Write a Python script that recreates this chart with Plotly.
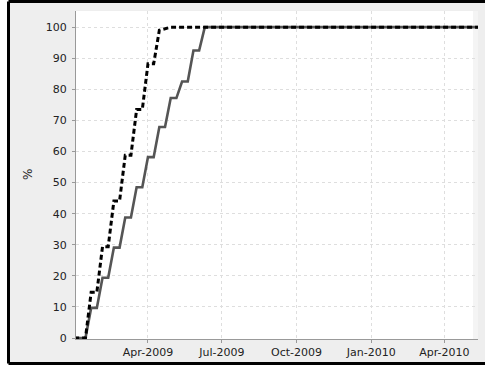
import plotly.graph_objects as go

# ---- data ----
solid_dates = ["2008-12-31", "2009-01-07", "2009-01-14", "2009-01-21", "2009-01-28",
               "2009-02-04", "2009-02-11", "2009-02-18", "2009-02-25", "2009-03-04",
               "2009-03-11", "2009-03-18", "2009-03-25", "2009-04-01", "2009-04-08",
               "2009-04-15", "2009-04-22", "2009-04-29", "2009-05-06", "2009-05-13",
               "2009-05-20", "2009-05-27", "2009-06-03", "2009-06-10", "2010-05-20"]
solid_values = [0, 0, 0, 9.7, 9.7, 19.4, 19.4, 29.1, 29.1, 38.8, 38.8, 48.5, 48.5,
                58.2, 58.2, 67.9, 67.9, 77.2, 77.2, 82.5, 82.5, 92.5, 92.5, 100, 100]

dashed_dates = ["2008-12-31", "2009-01-07", "2009-01-14", "2009-01-21", "2009-01-28",
                "2009-02-04", "2009-02-11", "2009-02-18", "2009-02-25", "2009-03-04",
                "2009-03-11", "2009-03-18", "2009-03-25", "2009-04-01", "2009-04-08",
                "2009-04-15", "2009-04-22", "2009-04-29", "2010-05-20"]
dashed_values = [0, 0, 0, 14.7, 14.7, 29.4, 29.4, 44.1, 44.1, 58.8, 58.8, 73.5, 73.5,
                 88.2, 88.2, 99.0, 99.6, 100, 100]

x_tick_vals = ["2009-04-01", "2009-07-01", "2009-10-01", "2010-01-01", "2010-04-01"]
x_tick_text = ["Apr-2009", "Jul-2009", "Oct-2009", "Jan-2010", "Apr-2010"]
y_tick_vals = [0, 10, 20, 30, 40, 50, 60, 70, 80, 90, 100]
y_title = "%"

FONT = "DejaVu Sans"
TXT = "#222222"
W, H = 485, 368
L, R, T, B = 76, 7, 11, 29
pw, ph = W - L - R, H - T - B

def px_x(p):
    return (p - L) / pw

def px_y(p):
    return (H - B - p) / ph

fig = go.Figure()
fig.add_trace(go.Scatter(x=solid_dates, y=solid_values, mode="lines",
                         line=dict(color="#555555", width=2.6), showlegend=False))
fig.add_trace(go.Scatter(x=dashed_dates, y=dashed_values, mode="lines",
                         line=dict(color="#000000", width=3, dash="5px,3px"),
                         showlegend=False))

bx0, bx1, by0, by1 = px_x(8.5), px_x(W), px_y(363.5), px_y(1.5)
black = dict(color="#000000", width=3)
shapes = [
    # outer grey panel
    dict(type="rect", xref="paper", yref="paper", layer="below",
         x0=bx0, x1=bx1, y0=by0, y1=by1,
         fillcolor="#eeeeee", line=dict(width=0)),
    # plot area
    dict(type="rect", xref="paper", yref="paper", layer="below",
         x0=0, x1=1, y0=0, y1=1, fillcolor="#ffffff", line=dict(width=0)),
    # faint strip at the right edge of the plot area
    dict(type="rect", xref="paper", yref="paper", layer="below",
         x0=px_x(473), x1=1, y0=0, y1=1, fillcolor="#f4f4f4", line=dict(width=0)),
    # black border: top, left, bottom (right side cut off)
    dict(type="line", xref="paper", yref="paper", layer="below",
         x0=bx0, x1=bx1, y0=by1, y1=by1, line=black),
    dict(type="line", xref="paper", yref="paper", layer="below",
         x0=bx0, x1=bx0, y0=by0, y1=by1, line=black),
    dict(type="line", xref="paper", yref="paper", layer="below",
         x0=bx0, x1=bx1, y0=by0, y1=by0, line=black),
]

fig.update_layout(
    width=W, height=H,
    margin=dict(l=L, r=R, t=T, b=B, pad=0),
    paper_bgcolor="#ffffff",
    plot_bgcolor="#ffffff",
    font=dict(family=FONT, size=11, color=TXT),
    shapes=shapes,
    showlegend=False,
    annotations=[dict(text=y_title, xref="paper", yref="paper",
                      x=px_x(28), y=0.5, xanchor="center", yanchor="middle",
                      showarrow=False, textangle=-90,
                      font=dict(family=FONT, size=12, color=TXT))],
)
fig.update_xaxes(
    type="date",
    range=["2009-01-02 08:00", "2010-05-12 12:00"],
    tickvals=x_tick_vals, ticktext=x_tick_text,
    showgrid=True, gridcolor="#dedede", griddash="3px,3px", gridwidth=1,
    showline=True, linecolor="#999999", linewidth=1,
    ticks="outside", ticklen=3, tickcolor="#999999",
    zeroline=False,
    tickfont=dict(family=FONT, size=11, color=TXT),
)
fig.update_yaxes(
    range=[-0.3, 105.2],
    tickvals=y_tick_vals,
    showgrid=True, gridcolor="#dedede", griddash="3px,3px", gridwidth=1,
    showline=True, linecolor="#999999", linewidth=1,
    ticks="outside", ticklen=3, tickcolor="#999999",
    zeroline=False,
    ticklabelstandoff=3,
    tickfont=dict(family=FONT, size=11, color=TXT),
)

fig.write_html(
    "out.html", config={"displayModeBar": False},
    post_script=("document.body.style.margin='0';"
                 "document.body.style.overflow='hidden';"
                 "document.documentElement.style.overflow='hidden';"))
